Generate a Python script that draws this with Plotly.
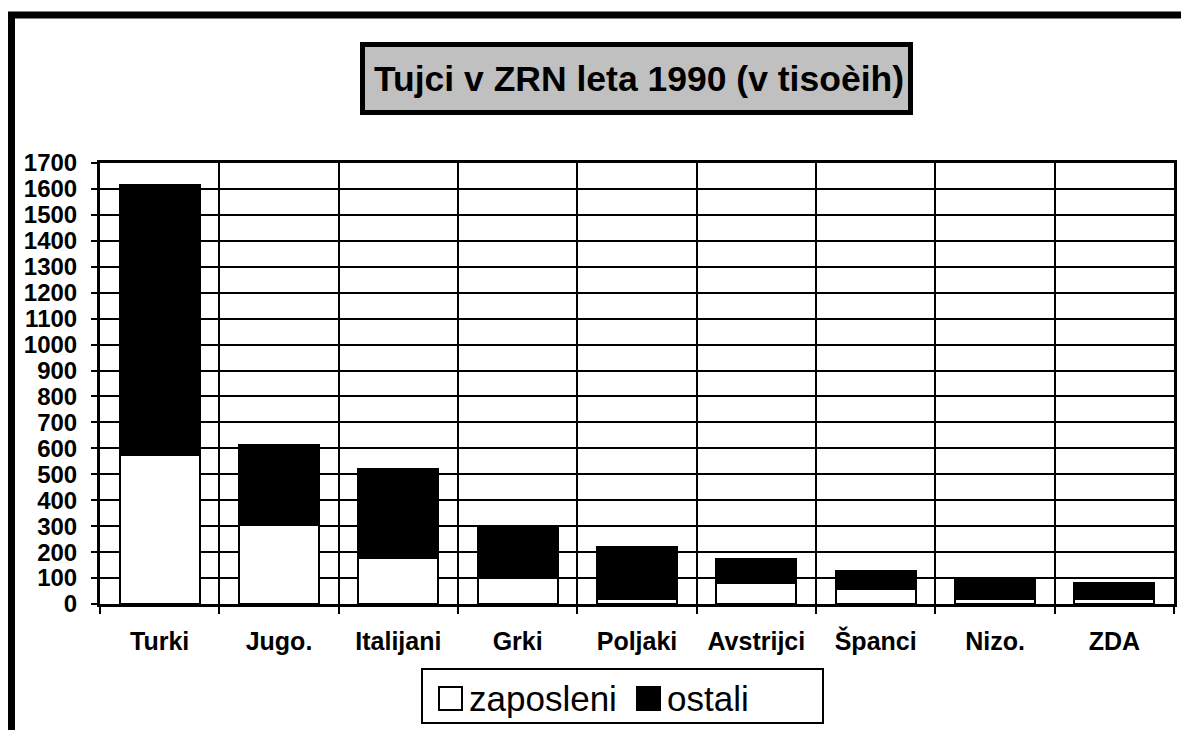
import plotly.graph_objects as go

categories = ["Turki", "Jugo.", "Italijani", "Grki", "Poljaki", "Avstrijci", "Španci", "Nizo.", "ZDA"]
zaposleni = [574, 305, 178, 100, 20, 82, 56, 20, 20]
ostali = [1041, 307, 342, 202, 200, 90, 72, 79, 60]
y_ticks = list(range(0, 1800, 100))
title_text = "Tujci v ZRN leta 1990 (v tisoèih)"
legend_names = ["zaposleni", "ostali"]

# page has an 8px body margin; figure sized to fit the window
OFF = 8
W, H = 1189 - OFF, 730 - OFF
# plot area in screenshot pixels
L, R, T, B = 100, 1174, 163, 604


def px(x):
    return (x - L) / (R - L)


def py(y):
    return (B - y) / (B - T)


FONT = "Liberation Sans, Arial, sans-serif"

fig = go.Figure()
fig.add_trace(go.Bar(x=categories, y=zaposleni, name=legend_names[0],
                     marker=dict(color="white", line=dict(color="black", width=2)),
                     showlegend=False))
fig.add_trace(go.Bar(x=categories, y=ostali, name=legend_names[1],
                     marker=dict(color="black", line=dict(color="black", width=2)),
                     showlegend=False))

shapes = []
# outer frame
shapes.append(dict(type="rect", xref="paper", yref="paper",
                   x0=px(11.5), x1=px(1400), y0=py(900), y1=py(15),
                   line=dict(color="black", width=7), fillcolor="rgba(0,0,0,0)", layer="below"))
# title box
shapes.append(dict(type="rect", xref="paper", yref="paper",
                   x0=px(362.5), x1=px(910.5), y0=py(112.5), y1=py(44.5),
                   line=dict(color="black", width=5), fillcolor="#c0c0c0"))
# legend box
shapes.append(dict(type="rect", xref="paper", yref="paper",
                   x0=px(422), x1=px(823), y0=py(723), y1=py(669),
                   line=dict(color="black", width=2), fillcolor="white"))
shapes.append(dict(type="rect", xref="paper", yref="paper",
                   x0=px(439), x1=px(462), y0=py(710), y1=py(687),
                   line=dict(color="black", width=2), fillcolor="white"))
shapes.append(dict(type="rect", xref="paper", yref="paper",
                   x0=px(637), x1=px(660), y0=py(710), y1=py(687),
                   line=dict(color="black", width=2), fillcolor="black"))

annotations = [
    dict(text=title_text, xref="paper", yref="paper", x=px(639), y=py(79),
         xanchor="center", yanchor="middle", showarrow=False,
         font=dict(family=FONT, size=35.5, color="black", weight=700)),
    dict(text=legend_names[0], xref="paper", yref="paper", x=px(467), y=py(698),
         xanchor="left", yanchor="middle", showarrow=False,
         font=dict(family=FONT, size=35, color="black")),
    dict(text=legend_names[1], xref="paper", yref="paper", x=px(665), y=py(698),
         xanchor="left", yanchor="middle", showarrow=False,
         font=dict(family=FONT, size=35, color="black")),
]

fig.update_layout(
    width=W, height=H,
    margin=dict(l=L - OFF, r=W - (R - OFF), t=T - OFF, b=H - (B - OFF), pad=0),
    paper_bgcolor="white", plot_bgcolor="white",
    barmode="stack", bargap=0.33,
    showlegend=False,
    shapes=shapes, annotations=annotations,
    font=dict(family=FONT, color="black"),
)
fig.update_xaxes(
    type="category", tickson="boundaries",
    showgrid=True, gridcolor="black", gridwidth=2,
    ticks="outside", ticklen=7, tickwidth=2, tickcolor="black",
    showline=True, linecolor="black", linewidth=3, mirror=True,
    tickfont=dict(family=FONT, size=25, color="black", weight=700),
    ticklabelstandoff=13,
)
fig.update_yaxes(
    range=[0, 1700], tickvals=y_ticks,
    showgrid=True, gridcolor="black", gridwidth=2, zeroline=False,
    ticks="outside", ticklen=6, tickwidth=2, tickcolor="black",
    showline=True, linecolor="black", linewidth=3, mirror=True,
    tickfont=dict(family=FONT, size=24, color="black", weight=700),
    ticklabelstandoff=9,
)

fig.write_html("out.html")
